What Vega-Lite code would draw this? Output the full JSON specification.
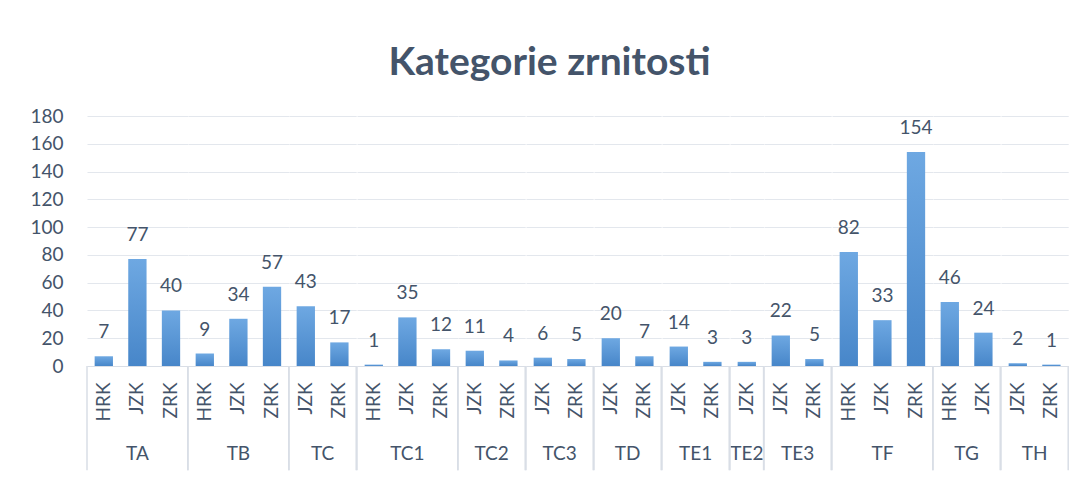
{
  "$schema": "https://vega.github.io/schema/vega-lite/v6.json",
  "padding": {"left": 29, "top": 44, "right": 0, "bottom": 0},
  "background": "white",
  "title": {"text": "Kategorie zrnitosti", "font": "Lato", "fontSize": 39, "fontWeight": "bold", "color": "#44546a", "anchor": "middle", "frame": "bounds", "offset": 24},
  "data": {"values": [
    {"group": "TA", "sub": "HRK", "count": 7},
    {"group": "TA", "sub": "JZK", "count": 77},
    {"group": "TA", "sub": "ZRK", "count": 40},
    {"group": "TB", "sub": "HRK", "count": 9},
    {"group": "TB", "sub": "JZK", "count": 34},
    {"group": "TB", "sub": "ZRK", "count": 57},
    {"group": "TC", "sub": "JZK", "count": 43},
    {"group": "TC", "sub": "ZRK", "count": 17},
    {"group": "TC1", "sub": "HRK", "count": 1},
    {"group": "TC1", "sub": "JZK", "count": 35},
    {"group": "TC1", "sub": "ZRK", "count": 12},
    {"group": "TC2", "sub": "JZK", "count": 11},
    {"group": "TC2", "sub": "ZRK", "count": 4},
    {"group": "TC3", "sub": "JZK", "count": 6},
    {"group": "TC3", "sub": "ZRK", "count": 5},
    {"group": "TD", "sub": "JZK", "count": 20},
    {"group": "TD", "sub": "ZRK", "count": 7},
    {"group": "TE1", "sub": "JZK", "count": 14},
    {"group": "TE1", "sub": "ZRK", "count": 3},
    {"group": "TE2", "sub": "JZK", "count": 3},
    {"group": "TE3", "sub": "JZK", "count": 22},
    {"group": "TE3", "sub": "ZRK", "count": 5},
    {"group": "TF", "sub": "HRK", "count": 82},
    {"group": "TF", "sub": "JZK", "count": 33},
    {"group": "TF", "sub": "ZRK", "count": 154},
    {"group": "TG", "sub": "HRK", "count": 46},
    {"group": "TG", "sub": "JZK", "count": 24},
    {"group": "TH", "sub": "JZK", "count": 2},
    {"group": "TH", "sub": "ZRK", "count": 1}
  ]},
  "facet": {
    "column": {
      "field": "group", "type": "nominal", "sort": "ascending",
      "header": {"title": null, "labelOrient": "bottom", "labelFont": "Lato", "labelFontSize": 19, "labelColor": "#44546a", "labelPadding": 79}
    }
  },
  "spacing": 0,
  "bounds": "flush",
  "resolve": {"scale": {"x": "independent"}},
  "spec": {
    "width": {"step": 33.6},
    "height": 250,
    "encoding": {
      "x": {
        "field": "sub", "type": "nominal", "sort": "ascending",
        "scale": {"paddingInner": 0, "paddingOuter": 0},
        "axis": {"title": null, "labelAngle": -90, "ticks": false, "labelPadding": 16, "labelFont": "Lato", "labelFontSize": 19, "labelColor": "#44546a", "domainColor": "#d9dee6", "grid": false}
      },
      "y": {
        "field": "count", "type": "quantitative",
        "scale": {"domain": [0, 180], "nice": false},
        "axis": {"title": null, "values": [0, 20, 40, 60, 80, 100, 120, 140, 160, 180], "tickCount": 10, "labelOverlap": false, "labelBound": false, "domain": false, "ticks": false, "labelPadding": 24, "labelFont": "Lato", "labelFontSize": 19, "labelColor": "#44546a", "gridColor": "#e3e7ed"}
      }
    },
    "layer": [
      {
        "mark": {"type": "bar", "width": {"band": 0.545}, "color": {"gradient": "linear", "x1": 0, "y1": 0, "x2": 0, "y2": 1, "stops": [{"offset": 0, "color": "#6ea8e2"}, {"offset": 1, "color": "#4786c9"}]}}
      },
      {
        "mark": {"type": "text", "baseline": "alphabetic", "dy": -18, "font": "Lato", "fontSize": 19, "color": "#44546a"},
        "encoding": {
          "text": {"field": "count", "type": "quantitative"}
        }
      },
      {
        "transform": [
          {"window": [{"op": "row_number", "as": "r"}], "groupby": ["group"], "sort": [{"field": "sub"}]},
          {"filter": "datum.r == 1"}
        ],
        "mark": {"type": "rule", "color": "#d9dee6", "strokeWidth": 1.5},
        "encoding": {
          "x": {"field": "sub", "type": "nominal", "bandPosition": 0},
          "y": {"datum": 0, "type": "quantitative"},
          "y2": {"datum": -75}
        }
      },
      {
        "transform": [
          {"window": [{"op": "row_number", "as": "r"}], "groupby": ["group"], "sort": [{"field": "sub"}]},
          {"joinaggregate": [{"op": "count", "as": "n"}], "groupby": ["group"]},
          {"filter": "datum.r == datum.n"}
        ],
        "mark": {"type": "rule", "color": "#d9dee6", "strokeWidth": 1.5},
        "encoding": {
          "x": {"field": "sub", "type": "nominal", "bandPosition": 1},
          "y": {"datum": 0, "type": "quantitative"},
          "y2": {"datum": -75}
        }
      }
    ]
  },
  "config": {"view": {"stroke": null}}
}
